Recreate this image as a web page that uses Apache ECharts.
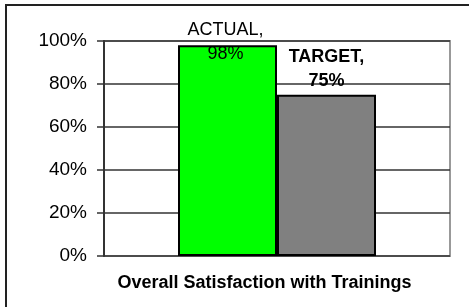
<!DOCTYPE html>
<html>
<head>
<meta charset="utf-8">
<style>
html,body{margin:0;padding:0;background:#fff;overflow:hidden;}
#c{position:absolute;left:0;top:0;width:469px;height:307px;}
#frame{position:absolute;left:5px;top:4px;width:470px;height:320px;border:2px solid #222;box-sizing:border-box;pointer-events:none;}
</style>
<script src="https://cdn.jsdelivr.net/npm/echarts@6/dist/echarts.min.js"></script>
</head>
<body>
<div id="c"></div>
<div id="frame"></div>
<script>
const categories = ['Overall Satisfaction with Trainings'];
const seriesNames = ['ACTUAL', 'TARGET'];
const actualValues = [98];
const targetValues = [75];
const yTicks = [0, 20, 40, 60, 80, 100];

const font = 'Arial, "Liberation Sans", sans-serif';
const chart = echarts.init(document.getElementById('c'), null, {renderer: 'canvas'});
chart.setOption({
  animation: false,
  backgroundColor: '#fff',
  grid: {left: 104, right: 19, top: 41, bottom: 51, show: true, borderColor: '#999', borderWidth: 2, backgroundColor: 'transparent'},
  xAxis: {
    type: 'category',
    data: categories,
    axisLine: {show: false},
    axisTick: {show: false},
    axisLabel: {fontFamily: font, fontSize: 18, fontWeight: 'bold', color: '#000', margin: 18, padding: [0, 25, 0, 0]},
    splitLine: {show: false}
  },
  yAxis: {
    type: 'value',
    min: yTicks[0], max: yTicks[yTicks.length - 1], interval: 20,
    axisLine: {show: true, lineStyle: {color: '#333', width: 2}},
    axisTick: {show: true, length: 7, lineStyle: {color: '#333', width: 1.5}},
    axisLabel: {fontFamily: font, fontSize: 19, color: '#000', margin: 17, formatter: '{value}%'},
    splitLine: {show: true, lineStyle: {color: '#333', width: 1.5}}
  },
  series: [
    {
      name: seriesNames[0], type: 'bar', data: actualValues, barWidth: 99, barGap: '0%',
      itemStyle: {color: '#00ff00', borderColor: '#000', borderWidth: 2},
      label: {show: true, position: 'top', distance: -21, offset: [-2, 0], fontFamily: font, fontSize: 18, color: '#000', lineHeight: 24,
        formatter: p => p.seriesName + ',\n' + p.value + '%'}
    },
    {
      name: seriesNames[1], type: 'bar', data: targetValues, barWidth: 99, barGap: '0%',
      itemStyle: {color: '#808080', borderColor: '#000', borderWidth: 2},
      label: {show: true, position: 'top', distance: 2, fontFamily: font, fontSize: 18, fontWeight: 'bold', color: '#000', lineHeight: 24,
        formatter: p => p.seriesName + ',\n' + p.value + '%'}
    }
  ]
});
</script>
</body>
</html>
